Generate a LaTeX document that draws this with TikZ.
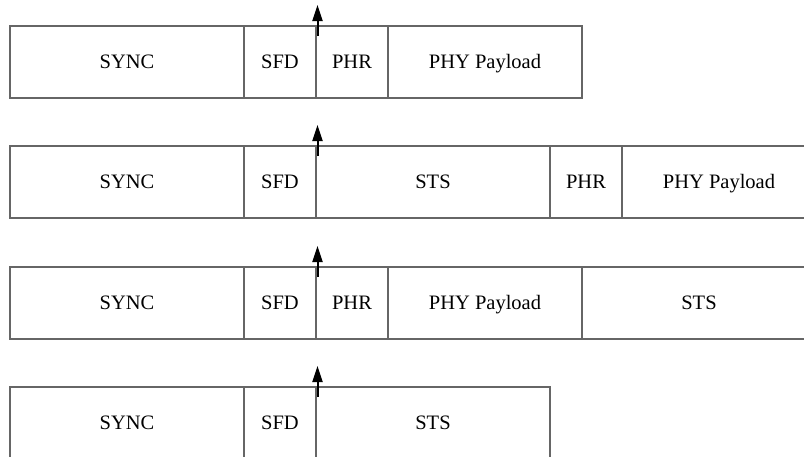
\documentclass[tikz,border=0pt]{standalone}
\usepackage{fontspec}
\setmainfont{Liberation Serif}
\usetikzlibrary{positioning,arrows.meta}
\tikzset{
  field/.style={draw=black!60, line width=1.1pt, minimum height=72pt,
    inner sep=0pt, outer sep=0pt, text height=15pt, text depth=3pt,
    font=\fontsize{20.5}{24}\selectfont},
  syncbox/.style={field, minimum width=234pt},
  shortbox/.style={field, minimum width=72pt},
  paybox/.style={field, minimum width=194pt},
  stsbox/.style={field, minimum width=234pt},
  up/.style={-{Triangle[length=16pt,width=10pt]}, line width=2pt}
}
\begin{document}
\begin{tikzpicture}[x=1pt,y=-1pt]
  \useasboundingbox (0,0) rectangle (804,456);
  \clip (0,0) rectangle (804,456);
  % frame 1
  \node[syncbox, anchor=west] (syncA) at (10,62) {SYNC};
  \node[shortbox, right=0pt of syncA] (sfdA) {SFD};
  \node[shortbox, right=0pt of sfdA] (phrA) {PHR};
  \node[paybox, right=0pt of phrA] (payA) {PHY Payload};
  % frame 2
  \node[syncbox, anchor=west] (syncB) at (10,182) {SYNC};
  \node[shortbox, right=0pt of syncB] (sfdB) {SFD};
  \node[stsbox, right=0pt of sfdB] (stsB) {STS};
  \node[shortbox, right=0pt of stsB] (phrB) {PHR};
  \node[paybox, right=0pt of phrB] (payB) {PHY Payload};
  % frame 3
  \node[syncbox, anchor=west] (syncC) at (10,303) {SYNC};
  \node[shortbox, right=0pt of syncC] (sfdC) {SFD};
  \node[shortbox, right=0pt of sfdC] (phrC) {PHR};
  \node[paybox, right=0pt of phrC] (payC) {PHY Payload};
  \node[stsbox, right=0pt of payC] (stsC) {STS};
  % frame 4
  \node[syncbox, anchor=west] (syncD) at (10,423) {SYNC};
  \node[shortbox, right=0pt of syncD] (sfdD) {SFD};
  \node[stsbox, right=0pt of sfdD] (stsD) {STS};
  % markers after SFD
  \foreach \r in {A,B,C,D} {
    \coordinate[above=21pt of sfd\r.north east, xshift=1.5pt] (tip\r);
    \draw[up] ([xshift=1.5pt,yshift=-10pt]sfd\r.north east) -- (tip\r);}
\end{tikzpicture}
\end{document}
